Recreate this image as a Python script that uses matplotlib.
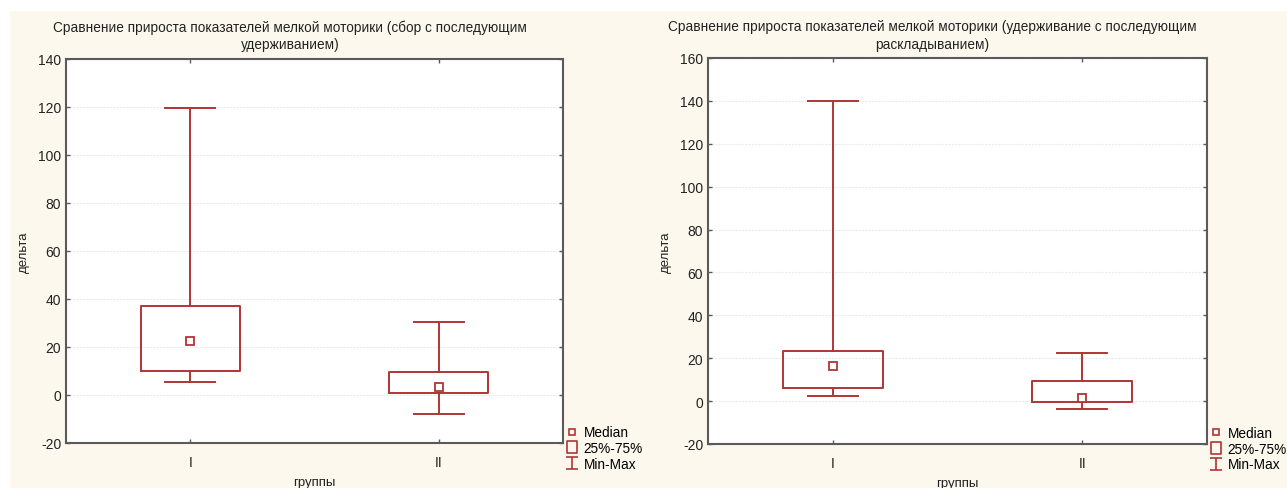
# Сравнение прироста показателей мелкой моторики - два бокс-плота
import matplotlib.pyplot as plt
from matplotlib.lines import Line2D
from matplotlib.patches import Rectangle
from matplotlib.path import Path

plt.rcParams['font.family'] = ['Liberation Sans', 'DejaVu Sans']
plt.rcParams['axes.unicode_minus'] = False

# данные
groups = ["I", "II"]

left_title = "Сравнение прироста показателей мелкой моторики (сбор с последующим\nудерживанием)"
left_min = [5.4, -7.8]
left_q1 = [9.8, 0.8]
left_med = [22.6, 3.5]
left_q3 = [36.9, 9.6]
left_max = [119.6, 30.6]
left_ticks = [-20, 0, 20, 40, 60, 80, 100, 120, 140]

right_title = "Сравнение прироста показателей мелкой моторики (удерживание с последующим\nраскладыванием)"
right_min = [2.4, -3.6]
right_q1 = [6.2, -0.3]
right_med = [16.4, 1.6]
right_q3 = [23.2, 9.5]
right_max = [140, 22.5]
right_ticks = [-20, 0, 20, 40, 60, 80, 100, 120, 140, 160]

red = "#b03535"
frame = "#5a5a5a"

fig = plt.figure(figsize=(12.87, 4.89), dpi=100)
fig.patch.set_facecolor("white")
# кремовый фон
fig.patches.append(Rectangle((10 / 1287, 0), 1, 1 - 12 / 489, transform=fig.transFigure,
                             facecolor="#fdf8ee", edgecolor="none", zorder=-10))

# значки для легенды
whisker_marker = Path([(-0.5, 0.5), (0.5, 0.5), (0, 0.5), (0, -0.5), (-0.5, -0.5), (0.5, -0.5)],
                      [Path.MOVETO, Path.LINETO, Path.MOVETO, Path.LINETO, Path.MOVETO, Path.LINETO])
box_marker = Path([(-0.37, -0.5), (0.37, -0.5), (0.37, 0.5), (-0.37, 0.5), (-0.37, -0.5)],
                  [Path.MOVETO, Path.LINETO, Path.LINETO, Path.LINETO, Path.CLOSEPOLY])


def draw(rect, title, title_x, mins, q1, med, q3, maxs, ticks):
    ax = fig.add_axes(rect)
    ax.set_facecolor("white")
    stats = []
    for i in range(len(groups)):
        stats.append({"label": groups[i], "whislo": mins[i], "q1": q1[i], "med": med[i],
                      "q3": q3[i], "whishi": maxs[i], "mean": med[i], "fliers": []})
    ax.bxp(stats, positions=[1, 2], widths=0.4, capwidths=0.2, showmeans=True, meanline=False,
           boxprops=dict(color=red, linewidth=1.4),
           whiskerprops=dict(color=red, linewidth=1.4),
           capprops=dict(color=red, linewidth=1.4),
           medianprops=dict(linewidth=0),
           meanprops=dict(marker="s", markersize=6, markerfacecolor="white",
                          markeredgecolor=red, markeredgewidth=1.3))
    ax.set_xlim(0.5, 2.5)
    ax.set_ylim(ticks[0], ticks[-1])
    ax.set_yticks(ticks)
    ax.grid(axis="y", color="#ebebeb", linewidth=0.8, linestyle=(0, (2, 1)))
    ax.set_axisbelow(True)
    for s in ax.spines.values():
        s.set_color(frame)
        s.set_linewidth(1.5)
    ax.tick_params(direction="in", length=3, width=1, color=frame, top=True, right=True,
                   labelsize=10, labelcolor="#222222")
    ax.tick_params(axis="x", pad=9)
    ax.set_xlabel("группы", fontsize=9.5, labelpad=5, color="#222222")
    ax.set_ylabel("дельта", fontsize=9.5, labelpad=6, color="#222222")
    fig.text(title_x, 1 - 36 / 489, title, ha="center", va="center", fontsize=9.8,
             color="#222222", linespacing=1.3)
    handles = [
        Line2D([], [], linestyle="none", marker="s", markersize=4.5, markerfacecolor="none",
               markeredgecolor=red, markeredgewidth=1.2),
        Line2D([], [], linestyle="none", marker=box_marker, markersize=9, markerfacecolor="none",
               markeredgecolor=red, markeredgewidth=1.2),
        Line2D([], [], linestyle="none", marker=whisker_marker, markersize=8,
               markerfacecolor="none", markeredgecolor=red, markeredgewidth=1.2),
    ]
    ax.legend(handles, ["Median", "25%-75%", "Min-Max"], loc="upper left",
              bbox_to_anchor=(1.0, 0.055), frameon=False, fontsize=9.8, handlelength=0.8,
              handletextpad=0.45, labelspacing=0.12, borderpad=0, borderaxespad=0.25)
    return ax


draw([66 / 1287, 45 / 489, 497 / 1287, 384 / 489], left_title, 290 / 1287,
     left_min, left_q1, left_med, left_q3, left_max, left_ticks)
draw([708 / 1287, 44 / 489, 499 / 1287, 386 / 489], right_title, 932 / 1287,
     right_min, right_q1, right_med, right_q3, right_max, right_ticks)

fig.savefig("out.png", dpi=100)
